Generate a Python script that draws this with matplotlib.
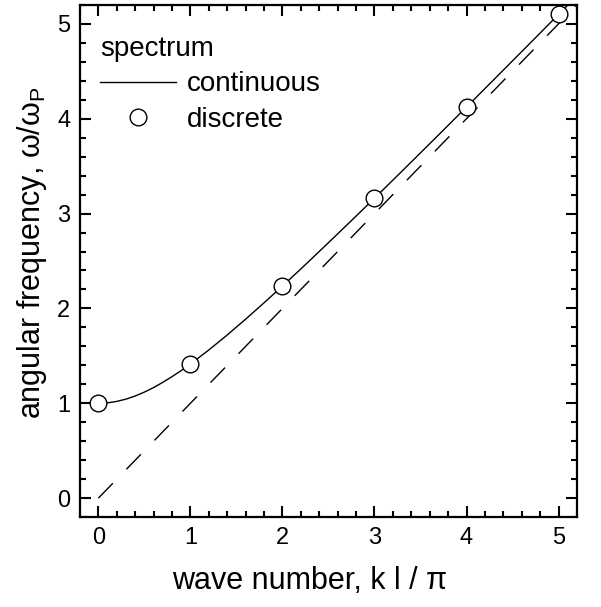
import numpy as np
import matplotlib
matplotlib.use('Agg')
import matplotlib.pyplot as plt
from matplotlib.ticker import MultipleLocator

plt.rcParams['font.family'] = ['Liberation Sans', 'DejaVu Sans']
plt.rcParams['mathtext.fontset'] = 'custom'
plt.rcParams['mathtext.rm'] = 'Liberation Sans'

# continuous spectrum
k_cont = [0.0, 0.1, 0.2, 0.3, 0.4, 0.5, 0.6, 0.7, 0.8, 0.9, 1.0, 1.2, 1.4,
          1.6, 1.8, 2.0, 2.25, 2.5, 2.75, 3.0, 3.25, 3.5, 3.75, 4.0, 4.25,
          4.5, 4.75, 5.0, 5.2]
w_cont = [1.0, 1.005, 1.02, 1.044, 1.077, 1.118, 1.166, 1.221, 1.281, 1.345,
          1.414, 1.562, 1.720, 1.887, 2.059, 2.236, 2.462, 2.693, 2.926,
          3.162, 3.40, 3.64, 3.881, 4.123, 4.366, 4.61, 4.854, 5.099, 5.295]

# discrete spectrum
k_disc = [0, 1, 2, 3, 4, 5]
w_disc = [1.0, 1.414, 2.236, 3.162, 4.123, 5.099]

# light line
k_light = [0.0, 5.2]
w_light = [0.0, 5.2]

fig = plt.figure(figsize=(6.01, 6.07), dpi=100)
ax = fig.add_axes([0.133, 0.148, 0.827, 0.844])

ax.plot(k_light, w_light, color='black', lw=1.0, dashes=(15, 14))
ax.plot(k_cont, w_cont, color='black', lw=1.0, label='continuous')
ax.plot(k_disc, w_disc, 'o', ms=12, mfc='white', mec='black', mew=1.0,
        label='discrete', clip_on=False)

ax.set_xlim(-0.2, 5.2)
ax.set_ylim(-0.2, 5.2)
ax.xaxis.set_major_locator(MultipleLocator(1))
ax.xaxis.set_minor_locator(MultipleLocator(0.2))
ax.yaxis.set_major_locator(MultipleLocator(1))
ax.yaxis.set_minor_locator(MultipleLocator(0.2))
ax.tick_params(which='both', direction='in', top=True, right=True, width=1.5)
ax.tick_params(which='major', length=8, labelsize=17)
ax.tick_params(axis='x', which='major', pad=7)
ax.tick_params(axis='y', which='major', pad=7)
ax.tick_params(which='minor', length=4)
for s in ax.spines.values():
    s.set_linewidth(1.6)

ax.set_xlabel('wave number, k l / π', fontsize=22, labelpad=12)
ax.set_ylabel(r'angular frequency, ω/ω$_\mathregular{P}$', fontsize=22, labelpad=6)
ax.xaxis.label.set_x(0.463)
ax.yaxis.label.set_y(0.517)

leg = ax.legend(loc='upper left', bbox_to_anchor=(0.018, 0.961),
                title='spectrum', frameon=False, fontsize=20,
                title_fontsize=20, handlelength=2.75, handletextpad=0.36,
                borderaxespad=0, borderpad=0.4, labelspacing=0.34)
leg._legend_box.align = 'left'

fig.savefig('out.png', dpi=100)
